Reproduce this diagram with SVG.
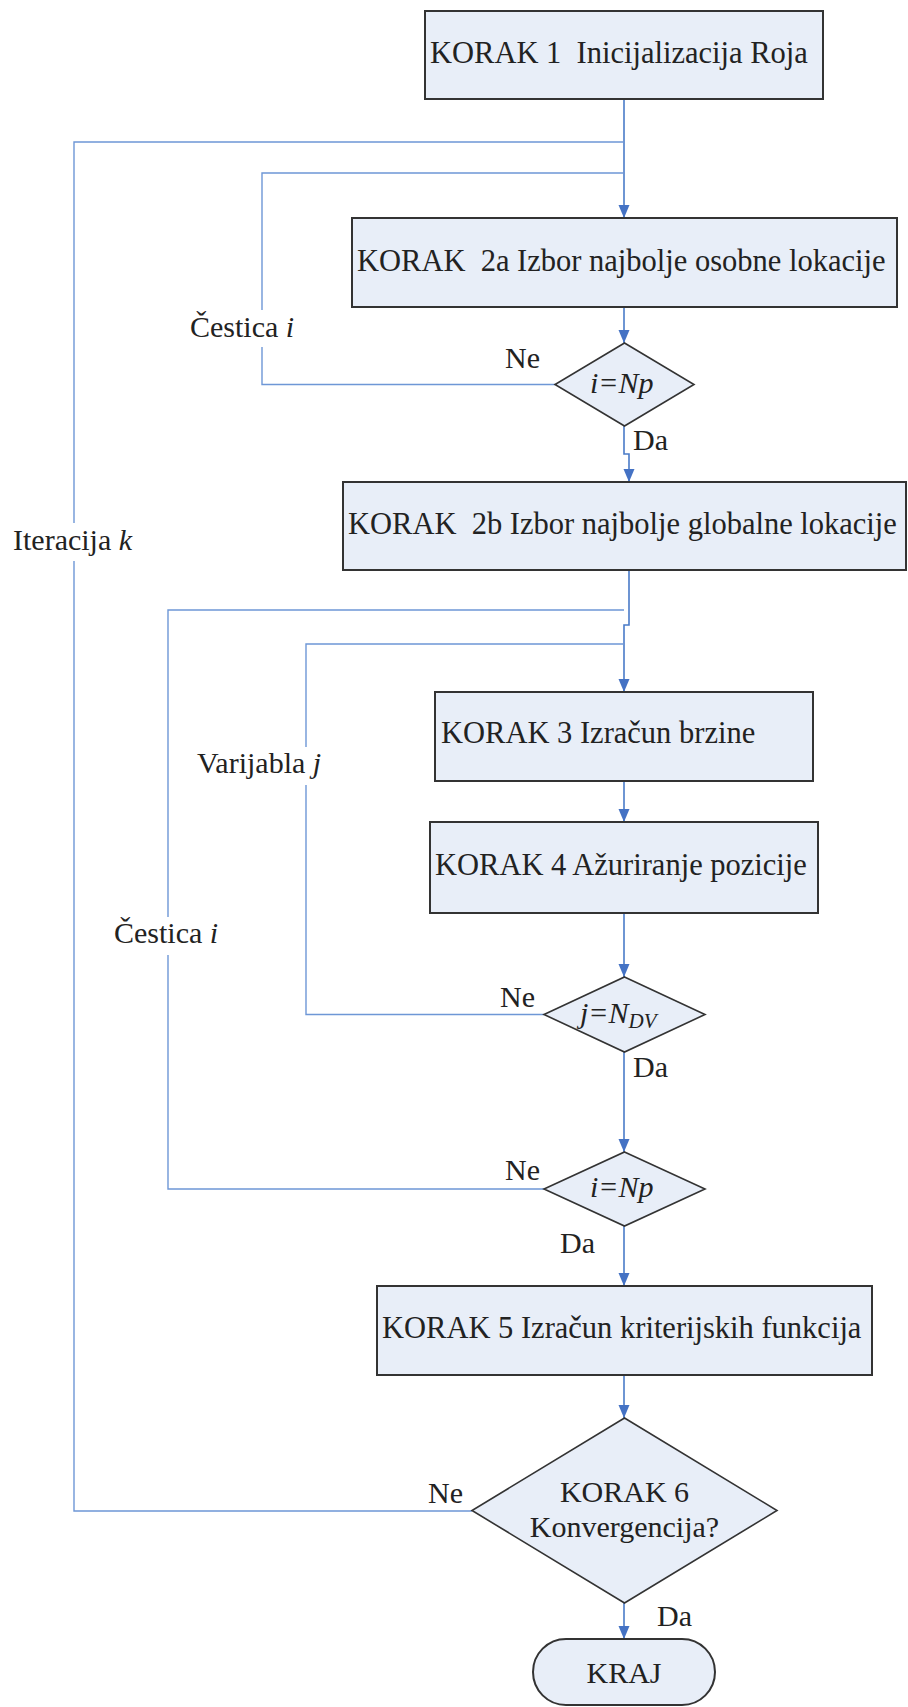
<svg xmlns="http://www.w3.org/2000/svg" width="908" height="1707" viewBox="0 0 908 1707" xml:lang="en">
<defs>
<marker id="ah" markerUnits="userSpaceOnUse" markerWidth="14" markerHeight="14" viewBox="0 0 14 14" refX="13" refY="7" orient="auto">
<path d="M0,1.5 L13,7 L0,12.5 Z" fill="#4472C4"/>
</marker>
</defs>
<rect width="908" height="1707" fill="#FFFFFF"/>

<g id="connectors" fill="none">
<g stroke="#4A7BC8" stroke-width="1.6">
<path d="M624,99 V218" marker-end="url(#ah)"/>
<path d="M624,307 V343" marker-end="url(#ah)"/>
<path d="M624,426 V454 H629 V482" marker-end="url(#ah)"/>
<path d="M629,570 V625 H624 V692" marker-end="url(#ah)"/>
<path d="M624,781 V822" marker-end="url(#ah)"/>
<path d="M624,913 V977" marker-end="url(#ah)"/>
<path d="M624,1052 V1152" marker-end="url(#ah)"/>
<path d="M624,1226 V1286" marker-end="url(#ah)"/>
<path d="M624,1375 V1418" marker-end="url(#ah)"/>
<path d="M624,1603 V1639" marker-end="url(#ah)"/>
</g>
<g stroke="#6E97D6" stroke-width="1.4">
<path d="M472,1511 H74 V561"/>
<path d="M74,523 V142 H624"/>
<path d="M555,384.5 H262 V347"/>
<path d="M262,310 V173 H624"/>
<path d="M544,1189 H168 V955"/>
<path d="M168,917 V610 H624"/>
<path d="M544,1014.5 H306 V785"/>
<path d="M306,747 V644 H624"/>
</g>
</g>

<g id="korak1">
<rect x="425" y="11" width="398" height="88" fill="#E8EEF8" stroke="#333333" stroke-width="2"/>
<text x="430" y="63" font-family="serif" font-size="30.5" fill="#222222">KORAK 1&#160; Inicijalizacija Roja</text>
</g>
<g id="korak2a">
<rect x="352" y="218" width="545" height="89" fill="#E8EEF8" stroke="#333333" stroke-width="2"/>
<text x="357" y="271" font-family="serif" font-size="30.5" fill="#222222">KORAK&#160; 2a Izbor najbolje osobne lokacije</text>
</g>
<g id="odluka1">
<polygon points="624.5,343 694,384.5 624.5,426 555,384.5" fill="#E8EEF8" stroke="#333333" stroke-width="1.6"/>
<text x="590" y="393" font-family="serif" font-size="30" font-style="italic" fill="#222222">i=Np</text>
</g>
<g id="korak2b">
<rect x="343" y="482" width="563" height="88" fill="#E8EEF8" stroke="#333333" stroke-width="2"/>
<text x="348" y="534" font-family="serif" font-size="30.5" fill="#222222">KORAK&#160; 2b Izbor najbolje globalne lokacije</text>
</g>
<g id="korak3">
<rect x="435" y="692" width="378" height="89" fill="#E8EEF8" stroke="#333333" stroke-width="2"/>
<text x="441" y="743" font-family="serif" font-size="30.5" fill="#222222">KORAK 3 Izračun brzine</text>
</g>
<g id="korak4">
<rect x="430" y="822" width="388" height="91" fill="#E8EEF8" stroke="#333333" stroke-width="2"/>
<text x="435" y="875" font-family="serif" font-size="30.5" fill="#222222">KORAK 4 Ažuriranje pozicije</text>
</g>
<g id="odluka2">
<polygon points="624.5,977 705,1014.5 624.5,1052 544,1014.5" fill="#E8EEF8" stroke="#333333" stroke-width="1.6"/>
<text x="580" y="1023" font-family="serif" font-size="30" font-style="italic" fill="#222222">j=N<tspan font-size="21" dy="5">DV</tspan></text>
</g>
<g id="odluka3">
<polygon points="624.5,1152 705,1189 624.5,1226 544,1189" fill="#E8EEF8" stroke="#333333" stroke-width="1.6"/>
<text x="590" y="1197" font-family="serif" font-size="30" font-style="italic" fill="#222222">i=Np</text>
</g>
<g id="korak5">
<rect x="377" y="1286" width="495" height="89" fill="#E8EEF8" stroke="#333333" stroke-width="2"/>
<text x="382" y="1338" font-family="serif" font-size="30.5" fill="#222222">KORAK 5 Izračun kriterijskih funkcija</text>
</g>
<g id="korak6">
<polygon points="624.5,1418 777,1510.5 624.5,1603 472,1510.5" fill="#E8EEF8" stroke="#333333" stroke-width="1.6"/>
<text x="624.5" y="1502" font-family="serif" font-size="30" fill="#222222" text-anchor="middle">KORAK 6</text>
<text x="624.5" y="1537" font-family="serif" font-size="30" fill="#222222" text-anchor="middle">Konvergencija?</text>
</g>
<g id="kraj">
<rect x="533" y="1639" width="182" height="66" rx="33" ry="33" fill="#E8EEF8" stroke="#333333" stroke-width="2"/>
<text x="624" y="1683" font-family="serif" font-size="30" fill="#222222" text-anchor="middle">KRAJ</text>
</g>

<g id="labels">
<text x="190" y="337" font-family="serif" font-size="30" fill="#222222">Čestica <tspan font-style="italic">i</tspan></text>
<text x="505" y="368" font-family="serif" font-size="30" fill="#222222">Ne</text>
<text x="633" y="450" font-family="serif" font-size="30" fill="#222222">Da</text>
<text x="13" y="550" font-family="serif" font-size="30" fill="#222222">Iteracija <tspan font-style="italic">k</tspan></text>
<text x="197" y="773" font-family="serif" font-size="30" fill="#222222">Varijabla <tspan font-style="italic">j</tspan></text>
<text x="114" y="943" font-family="serif" font-size="30" fill="#222222">Čestica <tspan font-style="italic">i</tspan></text>
<text x="500" y="1007" font-family="serif" font-size="30" fill="#222222">Ne</text>
<text x="633" y="1077" font-family="serif" font-size="30" fill="#222222">Da</text>
<text x="505" y="1180" font-family="serif" font-size="30" fill="#222222">Ne</text>
<text x="560" y="1253" font-family="serif" font-size="30" fill="#222222">Da</text>
<text x="428" y="1503" font-family="serif" font-size="30" fill="#222222">Ne</text>
<text x="657" y="1626" font-family="serif" font-size="30" fill="#222222">Da</text>
</g>
</svg>
